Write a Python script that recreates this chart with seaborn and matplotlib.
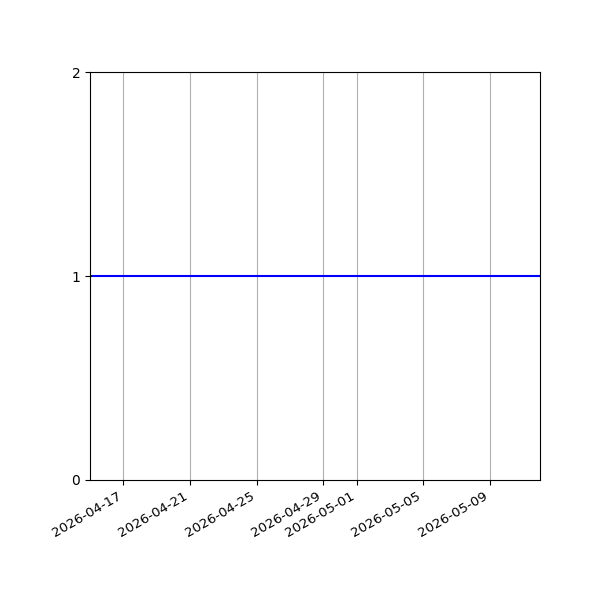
import pandas as pd
import matplotlib
matplotlib.use('Agg')
import matplotlib.pyplot as plt
import matplotlib.dates as mdates
import seaborn as sns

# daily values, flat at 1
dates = pd.date_range('2026-04-15', '2026-05-12', freq='D')
values = [1] * len(dates)

df = pd.DataFrame({'date': dates, 'value': values})

fig, ax = plt.subplots(figsize=(6, 6), dpi=100)
sns.lineplot(data=df, x='date', y='value', color='blue', ax=ax)

ax.set_xlim(dates[0], dates[-1])
ax.set_ylim(0, 2)
ax.set_yticks([0, 1, 2])
ax.xaxis.set_major_locator(mdates.AutoDateLocator())
ax.xaxis.set_major_formatter(mdates.DateFormatter('%Y-%m-%d'))
ax.tick_params(axis='x', labelsize=9.6)
ax.grid(axis='x')
ax.set_xlabel('')
ax.set_ylabel('')
fig.autofmt_xdate()
fig.subplots_adjust(left=0.15, bottom=0.2)

fig.savefig('out.png')
